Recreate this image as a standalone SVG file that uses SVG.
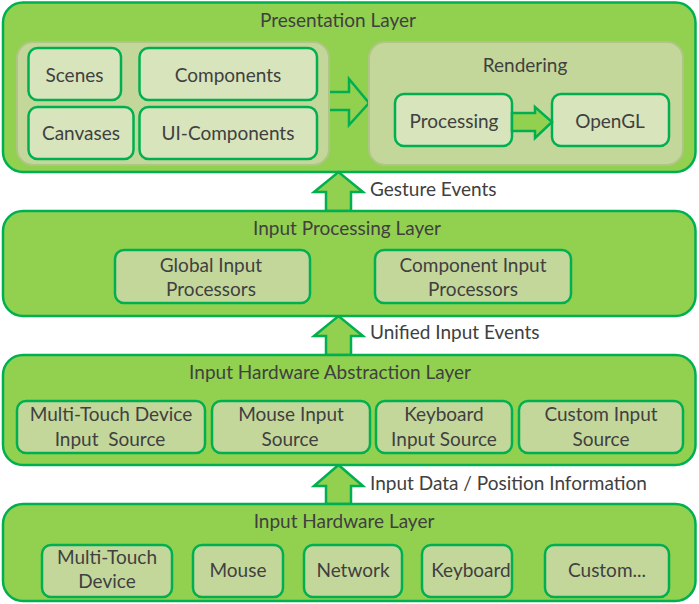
<svg xmlns="http://www.w3.org/2000/svg" width="699" height="604" viewBox="0 0 699 604">
<style>
.layer{fill:#92d050;stroke:#00b050;stroke-width:2.5}
.panel{fill:#c4d79b;stroke:#afc585;stroke-width:2}
.box{fill:#d8e4bc;stroke:#00b050;stroke-width:2.5}
.ibox{fill:#c4d79b;stroke:#00b050;stroke-width:2.5}
.arrow{fill:#92d050;stroke:#00b050;stroke-width:2.5;stroke-linejoin:miter}
text{font-family:Lato,"Open Sans","Liberation Sans",sans-serif;font-size:19px;fill:#404040;text-anchor:middle}
.lbl{text-anchor:start}
</style>
<rect width="699" height="604" fill="#ffffff"/>

<g id="presentation-layer">
<rect class="layer" x="3" y="2.5" width="692.5" height="169.5" rx="20"/>
<text x="338" y="27">Presentation Layer</text>
</g>

<g id="connectors">
<path class="arrow" d="M327,92 H349 V79 L369,103 L349,125 V110 H327 Z"/>
<path class="arrow" d="M326,211 V192 H314 L338.5,172 L363,192 H351 V211 Z"/>
<path class="arrow" d="M326,355 V336 H314 L338.5,316 L363,336 H351 V355 Z"/>
<path class="arrow" d="M326,504 V486 H314 L338.5,465 L363,486 H351 V504 Z"/>
</g>

<g id="presentation-left-panel">
<rect class="panel" x="17" y="42" width="312" height="123" rx="16"/>
</g>
<g id="scenes"><rect class="box" x="28.5" y="48" width="92.5" height="52" rx="9"/><text x="74.5" y="82">Scenes</text></g>
<g id="components"><rect class="box" x="139.5" y="48" width="177.5" height="52" rx="9"/><text x="228" y="82">Components</text></g>
<g id="canvases"><rect class="box" x="28.5" y="107" width="105" height="52" rx="9"/><text x="81" y="140">Canvases</text></g>
<g id="ui-components"><rect class="box" x="139.5" y="107" width="177.5" height="52" rx="9"/><text x="228" y="140">UI-Components</text></g>

<g id="rendering">
<rect class="panel" x="369" y="42" width="314" height="123" rx="16"/>
<text x="525" y="72">Rendering</text>
</g>
<g id="processing"><rect class="box" x="395" y="94" width="117" height="52" rx="9"/><text x="454" y="128">Processing</text></g>
<g id="opengl"><rect class="box" x="552" y="94" width="117" height="52" rx="9"/><text x="610" y="128">OpenGL</text></g>
<g id="render-arrow"><path class="arrow" d="M512,113 H535 V107 L552,122 L535,138 V131 H512 Z"/></g>

<g id="input-processing-layer">
<rect class="layer" x="3" y="211" width="692.5" height="105" rx="20"/>
<text x="347" y="235">Input Processing Layer</text>
</g>
<g id="global-input-processors"><rect class="ibox" x="115" y="250" width="195" height="53" rx="9"/><text x="211" y="272">Global Input</text><text x="211" y="296">Processors</text></g>
<g id="component-input-processors"><rect class="ibox" x="375" y="250" width="196" height="53" rx="9"/><text x="473" y="272">Component Input</text><text x="473" y="296">Processors</text></g>

<g id="input-hardware-abstraction-layer">
<rect class="layer" x="3" y="355" width="692.5" height="110" rx="20"/>
<text x="330" y="379">Input Hardware Abstraction Layer</text>
</g>
<g id="multitouch-source"><rect class="ibox" x="17" y="401" width="188" height="52" rx="9"/><text x="111" y="421">Multi-Touch Device</text><text x="110" y="446" xml:space="preserve">Input  Source</text></g>
<g id="mouse-source"><rect class="ibox" x="212" y="401" width="158" height="52" rx="9"/><text x="291" y="421">Mouse Input</text><text x="290" y="446">Source</text></g>
<g id="keyboard-source"><rect class="ibox" x="376" y="401" width="136" height="52" rx="9"/><text x="444" y="421">Keyboard</text><text x="444" y="446">Input Source</text></g>
<g id="custom-source"><rect class="ibox" x="519" y="401" width="164" height="52" rx="9"/><text x="601" y="421">Custom Input</text><text x="601" y="446">Source</text></g>

<g id="input-hardware-layer">
<rect class="layer" x="3" y="504" width="692.5" height="97" rx="20"/>
<text x="344" y="528">Input Hardware Layer</text>
</g>
<g id="multitouch-device"><rect class="ibox" x="42" y="545" width="130" height="52" rx="9"/><text x="107" y="564">Multi-Touch</text><text x="107" y="588">Device</text></g>
<g id="mouse"><rect class="ibox" x="193" y="545" width="90" height="52" rx="9"/><text x="238" y="577">Mouse</text></g>
<g id="network"><rect class="ibox" x="304" y="545" width="98" height="52" rx="9"/><text x="353" y="577">Network</text></g>
<g id="keyboard"><rect class="ibox" x="422" y="545" width="90" height="52" rx="9"/><text x="471" y="577">Keyboard</text></g>
<g id="custom"><rect class="ibox" x="545" y="545" width="124" height="52" rx="9"/><text x="607" y="577">Custom...</text></g>

<g id="connector-labels">
<text class="lbl" x="370" y="196">Gesture Events</text>
<text class="lbl" x="370" y="339">Unified Input Events</text>
<text class="lbl" x="370" y="490">Input Data / Position Information</text>
</g>
</svg>
